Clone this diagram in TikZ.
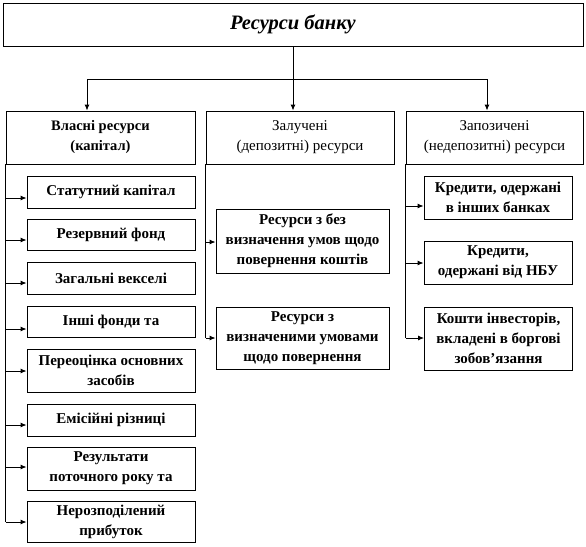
\documentclass[tikz,border=0pt]{standalone}
\usepackage{fontspec}
\setmainfont{Liberation Serif}
\usetikzlibrary{arrows.meta}
\tikzset{
  box/.style={draw, line width=0.9pt, align=center, inner sep=1pt,
    font=\fontsize{15}{20}\selectfont},
  subbox/.style={box, font=\fontsize{15}{20}\selectfont\bfseries},
  conn/.style={line width=0.9pt},
  arr/.style={line width=0.9pt, -{Latex[length=6pt,width=5pt]}}
}
\begin{document}
\begin{tikzpicture}[x=1pt,y=-1pt]
\useasboundingbox (0,0) rectangle (586,546);
% top
\node[box, minimum width=580pt, minimum height=43pt, font=\fontsize{20.5}{23}\selectfont\bfseries\itshape] (top) at (293,24.5) {Ресурси банку};
% headers
\node[box, font=\fontsize{14.5}{20}\selectfont\bfseries, minimum width=189pt, minimum height=53pt] (L) at (100.5,137.5) {Власні ресурси\\(капітал)};
\node[box, minimum width=188pt, minimum height=53pt] (M) at (300,137.5) {Залучені\\(депозитні) ресурси};
\node[box, minimum width=177pt, minimum height=53pt] (R) at (494.5,137.5) {Запозичені\\(недепозитні) ресурси};
% top connectors
\coordinate (hub) at (top.south |- 0,79);
\draw[conn] (top.south) -- (hub);
\draw[arr] (hub) -- (M.north -| hub);
\draw[arr] (hub) -| (L.north -| 87,0);
\draw[arr] (hub) -| (R.north -| 487,0);
% left column
\node[subbox, minimum width=168pt, minimum height=32pt] (l1) at (111,192) {Статутний капітал};
\node[subbox, minimum width=168pt, minimum height=31pt] (l2) at (111,234.5) {Резервний фонд};
\node[subbox, minimum width=168pt, minimum height=32pt] (l3) at (111,278) {Загальні векселі};
\node[subbox, minimum width=168pt, minimum height=31pt] (l4) at (111,321.5) {Інші фонди та};
\node[subbox, minimum width=168pt, minimum height=43pt] (l5) at (111,370.5) {Переоцінка основних\\засобів};
\node[subbox, minimum width=168pt, minimum height=32pt] (l6) at (111,420) {Емісійні різниці};
\node[subbox, minimum width=168pt, minimum height=43pt] (l7) at (111,468.5) {Результати\\поточного року та};
\node[subbox, minimum width=168pt, minimum height=41pt] (l8) at (111,521.5) {Нерозподілений\\прибуток};
\coordinate (lend) at (L.south west |- 0,522);
\draw[conn] (L.south west) -- (lend);
\draw[arr] (L.south west |- 0,198) -- (l1.west |- 0,198);
\draw[arr] (L.south west |- 0,240) -- (l2.west |- 0,240);
\draw[arr] (L.south west |- 0,283) -- (l3.west |- 0,283);
\draw[arr] (L.south west |- 0,329) -- (l4.west |- 0,329);
\draw[arr] (L.south west |- 0,371) -- (l5.west |- 0,371);
\draw[arr] (L.south west |- 0,425) -- (l6.west |- 0,425);
\draw[arr] (L.south west |- 0,467) -- (l7.west |- 0,467);
\draw[arr] (lend) -- (l8.west |- lend);
% middle column
\node[subbox, minimum width=173pt, minimum height=64pt] (m1) at (302.5,241) {Ресурси з без\\визначення умов щодо\\повернення коштів};
\node[subbox, minimum width=173pt, minimum height=62pt] (m2) at (302.5,338) {Ресурси з\\визначеними умовами\\щодо повернення};
\coordinate (mend) at (M.south west |- m2.west);
\draw[conn] (M.south west) -- (mend);
\draw[arr] (M.south west |- 0,242) -- (m1.west |- 0,242);
\draw[arr] (mend) -- (m2.west);
% right column
\node[subbox, minimum width=148pt, minimum height=43pt] (r1) at (498,197.5) {Кредити, одержані\\в інших банках};
\node[subbox, minimum width=148pt, minimum height=43pt] (r2) at (498,262.5) {Кредити,\\одержані від НБУ};
\node[subbox, minimum width=148pt, minimum height=63pt] (r3) at (498.5,338.5) {Кошти інвесторів,\\вкладені в боргові\\зобов’язання};
\coordinate (rend) at (R.south west |- 0,338);
\draw[conn] (R.south west) -- (rend);
\draw[arr] (R.south west |- 0,206) -- (r1.west |- 0,206);
\draw[arr] (R.south west |- 0,263) -- (r2.west |- 0,263);
\draw[arr] (rend) -- (r3.west |- rend);
\end{tikzpicture}
\end{document}
